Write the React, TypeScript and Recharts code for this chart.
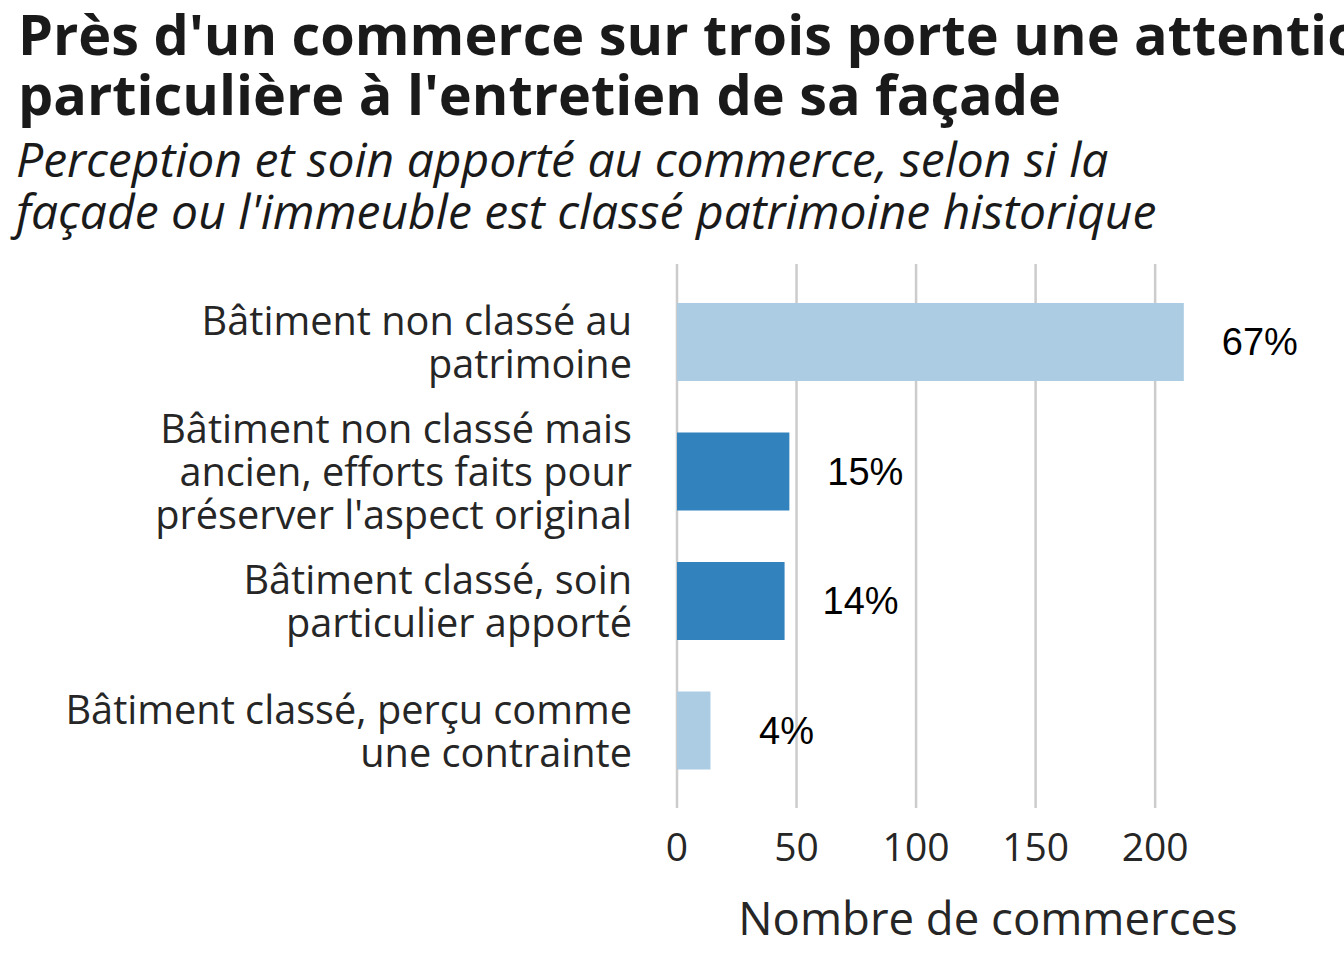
import React from "react";
import { Bar, BarChart, CartesianGrid, Cell, LabelList, XAxis, YAxis } from "recharts";

const TITRE = ["Près d'un commerce sur trois porte une attention", "particulière à l'entretien de sa façade"];
const SOUS_TITRE = [
  "Perception et soin apporté au commerce, selon si la",
  "façade ou l'immeuble est classé patrimoine historique",
];

const categories = [
  "Bâtiment non classé au\npatrimoine",
  "Bâtiment non classé mais\nancien, efforts faits pour\npréserver l'aspect original",
  "Bâtiment classé, soin\nparticulier apporté",
  "Bâtiment classé, perçu comme\nune contrainte",
];
const commerces = [212, 47, 45, 14];
const pourcentages = ["67%", "15%", "14%", "4%"];
const couleurs = ["#abcce3", "#3182bd", "#3182bd", "#abcce3"];
const ticksX = [0, 50, 100, 150, 200];

const donnees = categories.map((c, i) => ({ categorie: c, n: commerces[i], pct: pourcentages[i] }));

const POLICE = "'Open Sans', sans-serif";
const TEXTE = "#262626";

function TickCategorie({ y, payload }: { y?: number; payload?: { value: string } }) {
  const lignes = (payload?.value ?? "").split("\n");
  const interligne = 43;
  const debut = (y ?? 0) - ((lignes.length - 1) * interligne) / 2;
  return (
    <text x={632} y={debut} textAnchor="end" fontFamily={POLICE} fontSize={39.7} fill={TEXTE} dominantBaseline="central">
      {lignes.map((l, i) => (
        <tspan key={i} x={632} y={debut + i * interligne}>
          {l}
        </tspan>
      ))}
    </text>
  );
}

function TickNombre({ x, payload }: { x?: number; payload?: { value: number } }) {
  return (
    <text x={x} y={845} textAnchor="middle" dominantBaseline="central" fontFamily={POLICE} fontSize={39} fill={TEXTE}>
      {payload?.value}
    </text>
  );
}

function EtiquettePct(props: any) {
  const { x, y, width, height, value } = props;
  return (
    <text
      x={x + width + 76}
      y={y + height / 2}
      textAnchor="middle"
      dominantBaseline="central"
      fontFamily="'Liberation Sans', Arial, sans-serif"
      fontSize={38}
      fill="#000"
    >
      {value}
    </text>
  );
}

export default function App() {
  return (
    <div style={{ position: "fixed", left: 0, top: 0, width: 1344, height: 960, overflow: "hidden", background: "#fff" }}>
      <div
        style={{
          position: "absolute",
          left: 18,
          top: 3,
          fontFamily: POLICE,
          fontWeight: 700,
          fontSize: 55.8,
          lineHeight: "60px",
          color: "#1a1a1a",
          whiteSpace: "nowrap",
        }}
      >
        {TITRE.map((t) => (
          <div key={t}>{t}</div>
        ))}
      </div>
      <div
        style={{
          position: "absolute",
          left: 16,
          top: 133,
          fontFamily: POLICE,
          fontStyle: "italic",
          fontSize: 48,
          lineHeight: "52px",
          color: "#1a1a1a",
          whiteSpace: "nowrap",
        }}
      >
        {SOUS_TITRE.map((t) => (
          <div key={t}>{t}</div>
        ))}
      </div>
      <div style={{ position: "absolute", left: 0, top: 0 }}>
        <BarChart
          width={1344}
          height={960}
          data={donnees}
          layout="vertical"
          margin={{ top: 264, right: 0, bottom: 0, left: 37 }}
        >
          <CartesianGrid horizontal={false} verticalValues={ticksX} stroke="#cccccc" strokeWidth={2.5} />
          <XAxis
            type="number"
            domain={[0, 279]}
            ticks={ticksX}
            axisLine={false}
            tickLine={false}
            tick={<TickNombre />}
            height={152}
          />
          <YAxis
            type="category"
            dataKey="categorie"
            width={640}
            axisLine={false}
            tickLine={false}
            tick={<TickCategorie />}
            padding={{ top: 13, bottom: 13 }}
            interval={0}
          />
          <Bar dataKey="n" barSize={78} isAnimationActive={false}>
            {donnees.map((d, i) => (
              <Cell key={d.categorie} fill={couleurs[i]} />
            ))}
            <LabelList dataKey="pct" content={<EtiquettePct />} />
          </Bar>
        </BarChart>
      </div>
      <div
        style={{
          position: "absolute",
          left: 988,
          top: 888,
          transform: "translateX(-50%)",
          fontFamily: POLICE,
          fontSize: 45.5,
          lineHeight: "58px",
          color: TEXTE,
          whiteSpace: "nowrap",
        }}
      >
        Nombre de commerces
      </div>
    </div>
  );
}
